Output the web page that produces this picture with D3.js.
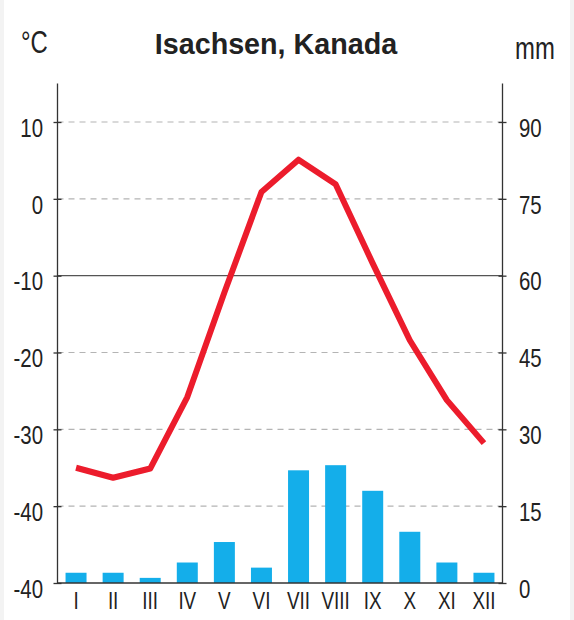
<!DOCTYPE html>
<html>
<head>
<meta charset="utf-8">
<script src="https://cdn.jsdelivr.net/npm/d3@7"></script>
<style>
  html, body { margin: 0; padding: 0; background: #f3f3f3; }
  svg { display: block; }
</style>
</head>
<body>
<div id="chart"></div>
<script>
var width = 574;
var height = 620;

// data
var months = ["I", "II", "III", "IV", "V", "VI", "VII", "VIII", "IX", "X", "XI", "XII"];
var temperature = [-35.0, -36.3, -35.1, -25.8, -12.2, 0.9, 5.1, 1.9, -8.4, -18.4, -26.2, -31.8];
var precipitation = [2, 2, 1, 4, 8, 3, 22, 23, 18, 10, 4, 2];

var tempTicks = [10, 0, -10, -20, -30, -40, -50];
var tempTickLabels = ["10", "0", "-10", "-20", "-30", "-40", "-40"];
var precTicks = [90, 75, 60, 45, 30, 15, 0];

var font = "'Liberation Sans', Arial, sans-serif";
var squeeze = 0.77; // the labels use a condensed face

var plotLeft = 57.5, plotRight = 502.5, plotBottom = 583, plotTop = 122;

var svg = d3.select("#chart").append("svg")
    .attr("width", width)
    .attr("height", height);

svg.append("rect")
    .attr("x", 4).attr("y", 0)
    .attr("width", 566).attr("height", height)
    .attr("fill", "#fff");

var x = d3.scaleBand()
    .domain(months)
    .range([plotLeft, plotRight])
    .paddingInner(0.434)
    .paddingOuter(0.217);

var yT = d3.scaleLinear().domain([-50, 10]).range([plotBottom, plotTop]);
var yP = d3.scaleLinear().domain([0, 90]).range([plotBottom, plotTop]);

// squeeze a text horizontally, keeping its anchor point
function condense(sel){
    sel.each(function(){
        var t = d3.select(this);
        var tx = +t.attr("x") || 0;
        t.attr("x", tx / squeeze)
         .attr("transform", "scale(" + squeeze + ",1)");
    });
}

// gridlines
svg.append("g").selectAll("line")
    .data(tempTicks.filter(function(d){ return d != -50; }))
    .enter().append("line")
        .attr("x1", plotLeft).attr("x2", plotRight)
        .attr("y1", function(d){ return yT(d); })
        .attr("y2", function(d){ return yT(d); })
        .attr("stroke", function(d){ return d == -10 ? "#555" : "#b4b4b4"; })
        .attr("stroke-width", 1.2)
        .attr("stroke-dasharray", function(d){ return d == -10 ? null : "6,5"; });

// bars
svg.append("g").selectAll("rect")
    .data(precipitation)
    .enter().append("rect")
        .attr("x", function(d, i){ return x(months[i]); })
        .attr("y", function(d){ return yP(d); })
        .attr("width", x.bandwidth())
        .attr("height", function(d){ return plotBottom - yP(d); })
        .attr("fill", "#14aeea");

// temperature line
var line = d3.line()
    .x(function(d, i){ return x(months[i]) + x.bandwidth() / 2; })
    .y(function(d){ return yT(d); });

svg.append("path")
    .datum(temperature)
    .attr("d", line)
    .attr("fill", "none")
    .attr("stroke", "#ec1c2c")
    .attr("stroke-width", 6)
    .attr("stroke-linejoin", "round");

// axes
var axisTop = yT(15);

var leftAxis = svg.append("g")
    .attr("transform", "translate(" + plotLeft + ",0)")
    .call(d3.axisLeft(yT)
        .tickValues(tempTicks)
        .tickFormat(function(d, i){ return tempTickLabels[i]; })
        .tickSizeOuter(0)
        .tickPadding(8.5));

var rightAxis = svg.append("g")
    .attr("transform", "translate(" + plotRight + ",0)")
    .call(d3.axisRight(yP)
        .tickValues(precTicks)
        .tickSizeOuter(0)
        .tickPadding(10.5));

[leftAxis, rightAxis].forEach(function(g){
    g.select(".domain").remove();
    g.append("line")
        .attr("y1", axisTop).attr("y2", plotBottom)
        .attr("stroke", "#333").attr("stroke-width", 1.3);
    g.selectAll(".tick line")
        .attr("x1", -4).attr("x2", 4)
        .attr("stroke", "#333").attr("stroke-width", 1.3);
    g.selectAll(".tick text")
        .attr("font-family", font)
        .attr("font-size", 26.5)
        .attr("fill", "#222")
        .attr("dy", "0.54em")
        .call(condense);
});

svg.append("line")
    .attr("x1", plotLeft).attr("x2", plotRight)
    .attr("y1", plotBottom).attr("y2", plotBottom)
    .attr("stroke", "#333").attr("stroke-width", 1.3);

var bottomAxis = svg.append("g")
    .attr("transform", "translate(0," + plotBottom + ")")
    .call(d3.axisBottom(x).tickSize(0).tickPadding(9));
bottomAxis.select(".domain").remove();
bottomAxis.selectAll(".tick text")
    .attr("font-family", font)
    .attr("font-size", 24.5)
    .attr("fill", "#222")
    .call(condense);

// titles
svg.append("text")
    .attr("x", 276).attr("y", 54)
    .attr("text-anchor", "middle")
    .attr("font-family", font)
    .attr("font-weight", "bold")
    .attr("font-size", 28.7)
    .attr("fill", "#222")
    .text("Isachsen, Kanada");

svg.append("text")
    .attr("x", 21).attr("y", 53)
    .attr("font-family", font)
    .attr("font-size", 31)
    .attr("fill", "#222")
    .text("°C")
    .call(condense);

svg.append("text")
    .attr("x", 515).attr("y", 59)
    .attr("font-family", font)
    .attr("font-size", 31)
    .attr("fill", "#222")
    .text("mm")
    .call(condense);
</script>
</body>
</html>
